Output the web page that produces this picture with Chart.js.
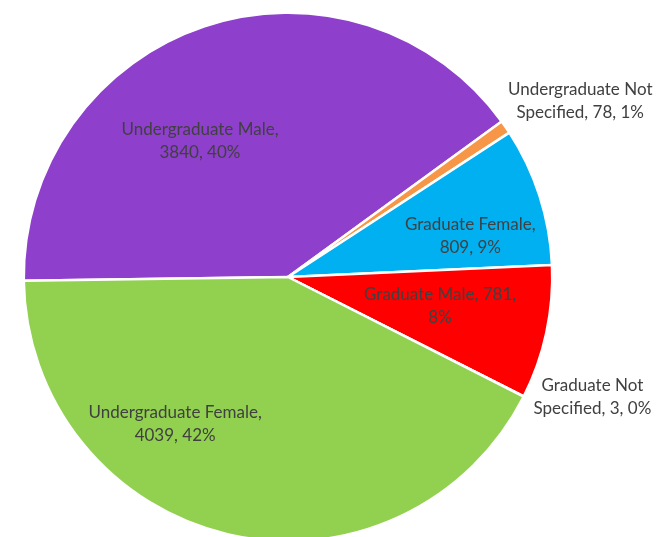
<!DOCTYPE html>
<html>
<head>
<meta charset="utf-8">
<script src="https://cdn.jsdelivr.net/npm/chart.js@4"></script>
<style>
html,body{margin:0;padding:0;background:#fff;overflow:hidden;width:658px;height:537px;}
canvas{display:block;}
</style>
</head>
<body>
<canvas id="c" width="658" height="560"></canvas>
<script>
const categories = [
  "Undergraduate Male",
  "Undergraduate Not Specified",
  "Graduate Female",
  "Graduate Male",
  "Graduate Not Specified",
  "Undergraduate Female"
];
const counts = [3840, 78, 809, 781, 3, 4039];
const percentLabels = ["40%", "1%", "9%", "8%", "0%", "42%"];
// label text, split in lines as in the reference
const labelLines = [
  ["Undergraduate Male,", "3840, 40%"],
  ["Undergraduate Not", "Specified, 78, 1%"],
  ["Graduate Female,", "809, 9%"],
  ["Graduate Male, 781,", "8%"],
  ["Graduate Not", "Specified, 3, 0%"],
  ["Undergraduate Female,", "4039, 42%"]
];

const colors = ["#8E3FCC", "#F79646", "#00B0F0", "#FF0000", "#ED7D31", "#92D050"];
// label placement style: angle shift (deg, + = counter-clockwise) and radius fraction
const labelAngleShift = [14.5, -3.5, -5.2, 1.3, 5.4, -24.4];
const labelRadius = [0.613, 1.291, 0.707, 0.586, 1.238, 0.702];

const labelPlugin = {
  id: 'sliceLabels',
  afterDatasetsDraw(chart) {
    const ctx = chart.ctx;
    const meta = chart.getDatasetMeta(0);
    ctx.save();
    ctx.font = '17px Lato, "Open Sans", sans-serif';
    ctx.fillStyle = '#404040';
    ctx.textAlign = 'center';
    ctx.textBaseline = 'middle';
    meta.data.forEach((arc, i) => {
      const p = arc.getProps(['x', 'y', 'startAngle', 'endAngle', 'outerRadius'], true);
      const mid = (p.startAngle + p.endAngle) / 2 - labelAngleShift[i] * Math.PI / 180;
      const r = p.outerRadius * labelRadius[i];
      const cx = p.x + Math.cos(mid) * r;
      const cy = p.y + Math.sin(mid) * r;
      const lines = labelLines[i];
      const lh = 23.5;
      lines.forEach((t, k) => {
        ctx.fillText(t, cx, cy + (k - (lines.length - 1) / 2) * lh);
      });
    });
    ctx.restore();
  }
};

new Chart(document.getElementById('c'), {
  type: 'pie',
  data: {
    labels: categories,
    datasets: [{
      data: counts,
      backgroundColor: colors,
      borderColor: '#ffffff',
      borderWidth: 2.5
    }]
  },
  options: {
    responsive: false,
    animation: false,
    rotation: 269.2,
    layout: { padding: { left: 22.5, top: 11.5, right: 104.5, bottom: 17.5 } },
    plugins: {
      legend: { display: false },
      tooltip: { enabled: false }
    }
  },
  plugins: [labelPlugin]
});
</script>
</body>
</html>
